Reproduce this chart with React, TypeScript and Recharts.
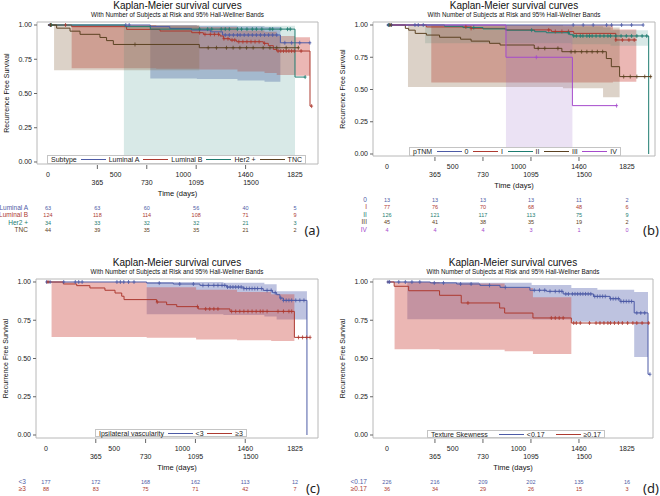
import React from "react";
import { ComposedChart, Line, Area, Scatter, XAxis, YAxis, ReferenceArea } from "recharts";

const FONT = '"Liberation Sans", Arial, sans-serif';

const dayTicks = [0, 365, 500, 730, 1000, 1095, 1460, 1500, 1825];
const lowerRowTicks = [365, 730, 1095, 1500];
const markTicks = [365, 730, 1095, 1460];
const atRiskDays = [0, 365, 730, 1095, 1460, 1825];
const survTicks = [0, 0.25, 0.5, 0.75, 1];

// (a) subtype
const lumASteps = [[0, 1], [756, 0.988], [900, 0.975], [1060, 0.963], [1200, 0.95], [1290, 0.927], [1717, 0.87], [1939, 0.87]];
const lumACensor = [15, 575, 600, 1310, 1340, 1370, 1400, 1420, 1450, 1480, 1510, 1540, 1570, 1600, 1630, 1660, 1690, 1750, 1800, 1860, 1935];
const lumABand = [[756, 0.61, 1.0], [1100, 0.605, 0.995], [1400, 0.595, 0.99], [1600, 0.585, 0.985], [1717, 0.585, 0.985]];
const lumAAtRisk = [63, 63, 60, 56, 40, 5];

const lumBSteps = [[0, 1], [175, 0.988], [581, 0.968], [828, 0.956], [1062, 0.944], [1148, 0.932], [1271, 0.92], [1296, 0.9], [1345, 0.89], [1394, 0.878], [1591, 0.866], [1628, 0.849], [1665, 0.822], [1690, 0.81], [1936, 0.408], [1948, 0.408]];
const lumBCensor = [20, 130, 1120, 1160, 1200, 1230, 1260, 1300, 1330, 1360, 1380, 1410, 1440, 1470, 1500, 1530, 1560, 1600, 1700, 1720, 1740, 1760, 1780, 1800, 1820, 1870, 1948];
const lumBBand = [[175, 0.685, 1.0], [800, 0.68, 0.99], [1118, 0.675, 0.985], [1400, 0.66, 0.96], [1600, 0.65, 0.95], [1690, 0.635, 0.92], [1825, 0.63, 0.91], [1936, 0.63, 0.91]];
const lumBAtRisk = [124, 118, 114, 108, 71, 9];

const her2Steps = [[0, 1], [571, 0.988], [756, 0.97], [1825, 0.62], [1902, 0.62]];
const her2Censor = [25, 1120, 1180, 1210, 1280, 1310, 1340, 1400, 1430, 1470, 1510, 1540, 1580, 1640, 1660, 1720, 1770, 1790, 1900];
const her2Band = [[561, 0, 0.995], [1825, 0, 0.995]];
const her2AtRisk = [34, 33, 32, 32, 21, 3];

const tncSteps = [[0, 1], [64, 0.977], [163, 0.955], [237, 0.932], [384, 0.909], [433, 0.886], [483, 0.858], [1118, 0.834], [1850, 0.834]];
const tncCensor = [20, 643, 1184, 1245, 1319, 1368, 1418, 1467, 1516, 1590, 1640, 1690, 1760, 1850];
const tncBand = [[45, 0.67, 1.0], [1118, 0.67, 1.0]];
const tncAtRisk = [44, 39, 35, 35, 21, 2];

// (b) pTNM
const t0Steps = [[0, 1], [1948, 1]];
const t0Censor = [10, 35, 213, 238, 276, 1416, 1492, 1568, 1670, 1708, 1784, 1860, 1948];
const t0Band: number[][] = [];
const t0AtRisk = [13, 13, 13, 13, 11, 2];

const t1Steps = [[0, 1], [300, 0.985], [640, 0.974], [900, 0.962], [1250, 0.95], [1420, 0.935], [1740, 0.884], [1900, 0.884]];
const t1Censor = [20, 600, 640, 1230, 1280, 1330, 1380, 1740, 1790, 1840, 1880];
const t1Band = [[337, 0.555, 1.0], [1718, 0.56, 0.965], [1896, 0.56, 0.965]];
const t1AtRisk = [77, 76, 70, 68, 48, 6];

const t2Steps = [[0, 1], [438, 0.99], [578, 0.98], [730, 0.97], [908, 0.96], [1123, 0.948], [1212, 0.94], [1389, 0.925], [1414, 0.915], [1990, 0]];
const t2Censor = [15, 660, 1100, 1380, 1420, 1440, 1470, 1490, 1520, 1540, 1560, 1590, 1620, 1650, 1680, 1700, 1740, 1780, 1820, 1860, 1900, 1940, 1975];
const t2Band = [[290, 0.858, 0.995], [1400, 0.85, 0.99], [1700, 0.84, 0.96], [1985, 0.84, 0.96]];
const t2AtRisk = [126, 121, 117, 113, 75, 9];

const t3Steps = [[0, 1], [140, 0.974], [165, 0.96], [215, 0.935], [300, 0.922], [400, 0.905], [560, 0.89], [640, 0.875], [780, 0.858], [860, 0.845], [1120, 0.819], [1330, 0.793], [1668, 0.74], [1706, 0.677], [1769, 0.6], [2010, 0.6]];
const t3Censor = [30, 1150, 1200, 1300, 1400, 1430, 1480, 1520, 1560, 1600, 1640, 1800, 1850, 1900, 1960, 2005];
const t3Band = [[160, 0.52, 1.0], [1338, 0.51, 0.99], [1643, 0.44, 0.98], [1769, 0.44, 0.98]];
const t3AtRisk = [45, 41, 38, 35, 19, 2];

const t4Steps = [[0, 1], [905, 0.75], [1410, 0.375], [1746, 0.375]];
const t4Censor = [1136, 1746];
const t4Band = [[905, 0, 1.0], [1410, 0, 1.0]];
const t4AtRisk = [4, 4, 4, 3, 1, 0];

// (c) ipsilateral vascularity
const vLowSteps = [[0, 1], [738, 0.993], [933, 0.987], [1128, 0.978], [1324, 0.967], [1450, 0.957], [1592, 0.945], [1660, 0.93], [1690, 0.917], [1714, 0.895], [1739, 0.88], [1912, 0]];
const vLowCensor = [5, 30, 130, 215, 240, 265, 520, 545, 570, 605, 645, 830, 980, 1080, 1150, 1190, 1230, 1260, 1290, 1310, 1330, 1350, 1370, 1390, 1410, 1430, 1450, 1470, 1490, 1510, 1530, 1550, 1580, 1620, 1650, 1680, 1720, 1740, 1760, 1780, 1800, 1830, 1860, 1890];
const vLowBand = [[738, 0.79, 1.0], [1300, 0.785, 0.995], [1600, 0.775, 0.985], [1690, 0.755, 0.94], [1912, 0.755, 0.94]];
const vLowAtRisk = [177, 172, 168, 162, 113, 12];

const vHighSteps = [[0, 1], [127, 0.987], [225, 0.976], [322, 0.961], [432, 0.946], [506, 0.928], [555, 0.907], [572, 0.885], [811, 0.869], [884, 0.852], [958, 0.839], [1116, 0.824], [1348, 0.808], [1820, 0.638], [1935, 0.638]];
const vHighCensor = [15, 815, 1110, 1170, 1200, 1230, 1260, 1360, 1390, 1420, 1450, 1480, 1510, 1540, 1570, 1590, 1620, 1700, 1740, 1780, 1800, 1850, 1880, 1910, 1935];
const vHighBand = [[41, 0.64, 1.0], [738, 0.635, 0.965], [1100, 0.625, 0.95], [1400, 0.62, 0.935], [1650, 0.615, 0.92], [1820, 0.615, 0.92]];
const vHighAtRisk = [88, 83, 75, 71, 42, 7];

// (d) texture skewness
const skLowSteps = [[0, 1], [330, 0.994], [530, 0.987], [707, 0.978], [860, 0.965], [1087, 0.946], [1214, 0.939], [1340, 0.922], [1570, 0.906], [1696, 0.891], [1772, 0.873], [1880, 0.798], [1985, 0.397], [2000, 0.397]];
const skLowCensor = [8, 20, 90, 140, 190, 250, 360, 430, 560, 640, 780, 900, 1120, 1160, 1200, 1240, 1280, 1310, 1330, 1360, 1380, 1410, 1430, 1450, 1470, 1490, 1510, 1530, 1550, 1580, 1600, 1620, 1640, 1660, 1700, 1720, 1740, 1760, 1780, 1800, 1820, 1840, 1860, 1900, 1930, 1960, 2000];
const skLowBand = [[155, 0.757, 1.0], [700, 0.757, 0.995], [1100, 0.755, 0.98], [1402, 0.74, 0.96], [1600, 0.735, 0.95], [1880, 0.51, 0.935], [1985, 0.51, 0.935]];
const skLowAtRisk = [226, 216, 209, 202, 135, 16];

const skHighSteps = [[0, 1], [55, 0.972], [165, 0.943], [400, 0.913], [565, 0.863], [857, 0.83], [895, 0.797], [1110, 0.765], [1402, 0.732], [1997, 0.732]];
const skHighCensor = [616, 1250, 1280, 1310, 1340, 1420, 1440, 1470, 1540, 1590, 1620, 1650, 1680, 1700, 1730, 1760, 1790, 1830, 1870, 1900, 1940, 1990];
const skHighBand = [[58, 0.56, 1.0], [400, 0.558, 0.99], [895, 0.547, 0.96], [1110, 0.53, 0.9], [1402, 0.53, 0.9]];
const skHighAtRisk = [36, 34, 29, 26, 15, 3];

const BLUE = "#4d5ba6";
const RED = "#ad3a30";
const TEAL = "#1e7c70";
const BROWN = "#5c4222";
const PURPLE = "#a54bcc";

const bandStyle: Record<string, [string, number]> = {
  [BLUE]: ["#4a5aa8", 0.36],
  [RED]: ["#cc4a44", 0.4],
  [TEAL]: ["#3a8f86", 0.2],
  [BROWN]: ["#8a6a48", 0.3],
  [PURPLE]: ["#9060c0", 0.18],
};

interface Series {
  name: string;
  color: string;
  steps: number[][];
  censor: number[];
  band: number[][];
  atRisk: number[];
}

interface PanelCfg {
  tag: string;
  left: number;
  top: number;
  plot: { x0: number; x1: number; y0: number; y1: number };
  xDomain: [number, number];
  yDomain: [number, number];
  legendTitle: string;
  legendBox: { left: number; top: number; width: number; height: number };
  tagPos: [number, number];
  series: Series[];
}

const panels: PanelCfg[] = [
  {
    tag: "(a)", left: 0, top: 0,
    plot: { x0: 37, x1: 318, y0: 22, y1: 164 },
    xDomain: [-81, 1995], yDomain: [-0.0146, 1.0219],
    legendTitle: "Subtype",
    legendBox: { left: 47, top: 154.5, width: 259, height: 9 },
    tagPos: [312, 235],
    series: [
      { name: "Luminal A", color: BLUE, steps: lumASteps, censor: lumACensor, band: lumABand, atRisk: lumAAtRisk },
      { name: "Luminal B", color: RED, steps: lumBSteps, censor: lumBCensor, band: lumBBand, atRisk: lumBAtRisk },
      { name: "Her2 +", color: TEAL, steps: her2Steps, censor: her2Censor, band: her2Band, atRisk: her2AtRisk },
      { name: "TNC", color: BROWN, steps: tncSteps, censor: tncCensor, band: tncBand, atRisk: tncAtRisk },
    ],
  },
  {
    tag: "(b)", left: 330, top: 0,
    plot: { x0: 43, x1: 325, y0: 22, y1: 156 },
    xDomain: [-106, 2038], yDomain: [-0.0155, 1.0233],
    legendTitle: "pTNM",
    legendBox: { left: 79, top: 147, width: 212, height: 8.5 },
    tagPos: [321, 235],
    series: [
      { name: "0", color: BLUE, steps: t0Steps, censor: t0Censor, band: t0Band, atRisk: t0AtRisk },
      { name: "I", color: RED, steps: t1Steps, censor: t1Censor, band: t1Band, atRisk: t1AtRisk },
      { name: "II", color: TEAL, steps: t2Steps, censor: t2Censor, band: t2Band, atRisk: t2AtRisk },
      { name: "III", color: BROWN, steps: t3Steps, censor: t3Censor, band: t3Band, atRisk: t3AtRisk },
      { name: "IV", color: PURPLE, steps: t4Steps, censor: t4Censor, band: t4Band, atRisk: t4AtRisk },
    ],
  },
  {
    tag: "(c)", left: 0, top: 248,
    plot: { x0: 36, x1: 318, y0: 31, y1: 190 },
    xDomain: [-73, 1993], yDomain: [-0.0196, 1.0196],
    legendTitle: "Ipsilateral vascularity",
    legendBox: { left: 95, top: 181, width: 152, height: 8 },
    tagPos: [313, 245],
    series: [
      { name: "<3", color: BLUE, steps: vLowSteps, censor: vLowCensor, band: vLowBand, atRisk: vLowAtRisk },
      { name: "≥3", color: RED, steps: vHighSteps, censor: vHighCensor, band: vHighBand, atRisk: vHighAtRisk },
    ],
  },
  {
    tag: "(d)", left: 330, top: 248,
    plot: { x0: 43, x1: 323, y0: 31, y1: 190 },
    xDomain: [-106, 2023], yDomain: [-0.0196, 1.0196],
    legendTitle: "Texture Skewness",
    legendBox: { left: 97, top: 182, width: 178, height: 8 },
    tagPos: [321, 245],
    series: [
      { name: "<0.17", color: BLUE, steps: skLowSteps, censor: skLowCensor, band: skLowBand, atRisk: skLowAtRisk },
      { name: "≥0.17", color: RED, steps: skHighSteps, censor: skHighCensor, band: skHighBand, atRisk: skHighAtRisk },
    ],
  },
];

function survAt(steps: number[][], t: number) {
  let s = steps[0][1];
  for (const [ti, si] of steps) if (ti <= t) s = si;
  return s;
}

// censored-observation marker
const plus = (color: string) => (props: any) => {
  const { cx, cy } = props;
  return <path d={`M${cx - 1.5},${cy}H${cx + 1.5}M${cx},${cy - 2}V${cy + 2}`} stroke={color} strokeWidth={0.8} fill="none" />;
};

function Panel({ cfg }: { cfg: PanelCfg }) {
  const { plot } = cfg;
  const W = 330;
  const H = 248;
  const yAxisW = 30;
  const base = plot.y1;
  const cx = (plot.x0 + plot.x1) / 2;

  const renderTick = (props: any) => {
    const { x, payload } = props;
    const v = payload.value;
    const lower = lowerRowTicks.includes(v);
    const k = atRiskDays.indexOf(v);
    return (
      <g>
        {markTicks.includes(v) && <line x1={x} x2={x} y1={base + 1} y2={base + 5} stroke="#666" />}
        <text x={x} y={base + (lower ? 20.5 : 12.5)} textAnchor="middle" fontSize={7} fill="#222" fontFamily={FONT}>{v}</text>
        {k >= 0 && cfg.series.map((s, i) => (
          <text key={"n" + i} x={x} y={base + 46 + i * 7.4} textAnchor="middle" fontSize={5.5} fill={s.color} fontFamily={FONT}>{s.atRisk[k]}</text>
        ))}
        {v === 0 && cfg.series.map((s, i) => (
          <text key={"l" + i} x={x - 20} y={base + 46 + i * 7.4} textAnchor="end" fontSize={6.5} fill={s.color} fontFamily={FONT}>{s.name}</text>
        ))}
      </g>
    );
  };

  return (
    <div style={{ position: "absolute", left: cfg.left, top: cfg.top, width: W, height: H }}>
      <ComposedChart width={W} height={H} margin={{ top: plot.y0, right: W - plot.x1, bottom: 0, left: plot.x0 - yAxisW }}>
        <XAxis
          type="number" dataKey="t" domain={cfg.xDomain} allowDataOverflow ticks={dayTicks} interval={0}
          height={H - plot.y1} axisLine={false} tickLine={false} tick={renderTick}
        />
        <YAxis
          type="number" domain={cfg.yDomain} allowDataOverflow ticks={survTicks} interval={0} width={yAxisW}
          axisLine={false} tickSize={3} tickMargin={2} tickLine={{ stroke: "#666" }}
          tickFormatter={(v: number) => v.toFixed(2)}
          tick={{ fontSize: 7, fill: "#222", fontFamily: FONT }}
        />
        {cfg.series.filter((s) => s.band.length).map((s) => (
          <Area
            key={"b" + s.name} data={s.band.map(([t, lo, hi]) => ({ t, r: [lo, hi] }))} dataKey="r" type="stepAfter"
            fill={bandStyle[s.color][0]} fillOpacity={bandStyle[s.color][1]} stroke="none"
            dot={false} activeDot={false} isAnimationActive={false}
          />
        ))}
        <ReferenceArea x1={cfg.xDomain[0]} x2={cfg.xDomain[1]} y1={cfg.yDomain[0]} y2={cfg.yDomain[1]} fillOpacity={0} stroke="#b8b8b8" ifOverflow="visible" />
        {cfg.series.map((s) => (
          <Line
            key={"l" + s.name} data={s.steps.map(([t, v]) => ({ t, s: v }))} dataKey="s" type="stepAfter"
            stroke={s.color} strokeWidth={1} dot={false} activeDot={false} isAnimationActive={false}
          />
        ))}
        {cfg.series.map((s) => (
          <Scatter
            key={"c" + s.name} data={s.censor.map((t) => ({ t, s: survAt(s.steps, t) }))} dataKey="s"
            shape={plus(s.color)} isAnimationActive={false}
          />
        ))}
      </ComposedChart>
      <svg width={W} height={H} style={{ position: "absolute", left: 0, top: 0, pointerEvents: "none" }} fontFamily={FONT}>
        <text x={cx} y={plot.y0 - 13.5} textAnchor="middle" fontSize={10} fill="#111">Kaplan-Meier survival curves</text>
        <text x={cx} y={plot.y0 - 5.5} textAnchor="middle" fontSize={6.3} fill="#111">With Number of Subjects at Risk and 95% Hall-Wellner Bands</text>
        <text transform={`translate(${plot.x0 - 31},${(plot.y0 + plot.y1) / 2}) rotate(-90)`} textAnchor="middle" dominantBaseline="central" fontSize={7} fill="#111">Recurrence Free Survival</text>
        <text x={cx} y={base + 32} textAnchor="middle" fontSize={7.5} fill="#111">Time (days)</text>
        <text x={cfg.tagPos[0]} y={cfg.tagPos[1]} textAnchor="middle" fontSize={13} fill="#222" fontFamily='"Noto Sans", sans-serif'>{cfg.tag}</text>
      </svg>
      <div
        style={{
          position: "absolute", left: cfg.legendBox.left, top: cfg.legendBox.top, width: cfg.legendBox.width, height: cfg.legendBox.height,
          border: "1px solid #c4c4c4", background: "#fff", boxSizing: "border-box", display: "flex", alignItems: "center",
          justifyContent: "space-between", padding: "0 3px", fontSize: 7, lineHeight: 1, fontFamily: FONT, color: "#222", whiteSpace: "nowrap",
        }}
      >
        <span>{cfg.legendTitle}</span>
        {cfg.series.map((s) => (
          <span key={s.name} style={{ display: "flex", alignItems: "center" }}>
            <span style={{ display: "inline-block", width: 25, height: 0, borderTop: `1px solid ${s.color}`, marginRight: 3 }} />
            <span>{s.name}</span>
          </span>
        ))}
      </div>
    </div>
  );
}

export default function App() {
  return (
    <div style={{ position: "absolute", left: 0, top: 0, width: 660, height: 496, background: "#fff", overflow: "hidden" }}>
      {panels.map((p) => (
        <Panel key={p.tag} cfg={p} />
      ))}
    </div>
  );
}
